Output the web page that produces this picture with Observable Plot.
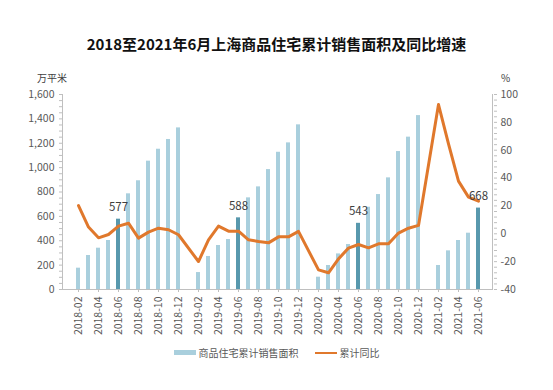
<!DOCTYPE html>
<html><head><meta charset="utf-8">
<script src="https://cdn.jsdelivr.net/npm/d3@7"></script>
<script src="https://cdn.jsdelivr.net/npm/@observablehq/plot@0.6"></script>
<style>
html,body{margin:0;padding:0;background:#fff;}
#wrap{position:relative;width:553px;height:390px;font-family:"Noto Sans CJK SC","Noto Sans",sans-serif;overflow:hidden;}
#title{position:absolute;left:0;top:34px;width:553px;text-align:center;font-size:15px;font-weight:bold;color:#111;line-height:20px;}
.unit{position:absolute;font-size:10px;color:#404040;line-height:14px;}
#legend{position:absolute;left:0;top:345px;width:553px;display:flex;justify-content:center;align-items:center;font-size:10px;color:#595959;}
.sw{display:inline-block;width:22px;margin-right:3px;}
#plot{position:absolute;left:0;top:0;}
</style></head>
<body>
<div id="wrap">
  <div id="plot"></div>
  <div id="title">2018至2021年6月上海商品住宅累计销售面积及同比增速</div>
  <div class="unit" style="left:37px;top:71px;">万平米</div>
  <div class="unit" style="left:501px;top:71px;">%</div>
  <div id="legend">
    <span class="sw" style="height:5px;background:#a9cfdd;"></span><span>商品住宅累计销售面积</span>
    <span class="sw" style="height:2px;background:#e0782c;margin-left:16px;"></span><span>累计同比</span>
  </div>
</div>
<script>
// Monthly categories 2018-02 .. 2021-06 (January slots are empty)
const months = [];
for (let y = 2018; y <= 2021; y++) for (let m = 1; m <= 12; m++) {
  const s = `${y}-${String(m).padStart(2, "0")}`;
  if (s >= "2018-02" && s <= "2021-06") months.push(s);
}
// Cumulative residential sales area (10k m²)
const areas = [175, 279, 339, 402, 577, 785, 892, 1053, 1151, 1231, 1326, null,
  139, 271, 361, 410, 588, 752, 842, 984, 1126, 1203, 1351, null,
  101, 197, 292, 369, 543, 675, 779, 916, 1132, 1250, 1427, null,
  197, 317, 402, 462, 668];
// Cumulative YoY growth (%)
const yoy = [20.3, 4.8, -2.9, -0.5, 5.5, 7.6, -3.1, 1.2, 4.0, 2.9, -0.7, null,
  -19.9, -4.3, 5.5, 1.9, 1.9, -4.3, -5.5, -6.5, -2.2, -2.2, 1.7, null,
  -25.9, -28, -18, -10.3, -7.7, -10.1, -7.2, -7.2, 0.5, 4.0, 6.0, null,
  92.8, 64.6, 37.8, 26.3, 23.4];
const xTickLabels = months.filter(d => +d.slice(5) % 2 === 0);
const leftTicks = d3.range(0, 1601, 200);
const rightTicks = d3.range(-40, 101, 20);

const L = [0, 1600], R = [-40, 100];
const toLeft = v => L[0] + (v - R[0]) / (R[1] - R[0]) * (L[1] - L[0]);
const fromLeft = v => R[0] + (v - L[0]) / (L[1] - L[0]) * (R[1] - R[0]);

const rows = months.map((m, i) => ({month: m, area: areas[i], yoy: yoy[i], june: m.endsWith("-06")}));
const barRows = rows.filter(d => d.area != null);
const lineRows = rows.filter(d => d.yoy != null);

const gray = "#595959", axisColor = "#bfbfbf";

function axisLines(index, scales, values, dims) {
  const g = d3.create("svg:g").attr("stroke", axisColor).attr("stroke-width", 1);
  const x0 = dims.marginLeft + 0.5, x1 = dims.width - dims.marginRight - 0.5;
  const y0 = dims.marginTop, y1 = dims.height - dims.marginBottom;
  g.append("line").attr("x1", x0).attr("x2", x0).attr("y1", y0).attr("y2", y1);
  g.append("line").attr("x1", x1).attr("x2", x1).attr("y1", y0).attr("y2", y1);
  return g.node();
}

const chart = Plot.plot({
  width: 553, height: 390,
  marginTop: 94, marginBottom: 101, marginLeft: 62, marginRight: 60,
  style: {fontFamily: '"Noto Sans CJK SC","Noto Sans",sans-serif', background: "transparent"},
  x: {type: "band", domain: months, paddingInner: 0.6, paddingOuter: 0.4, axis: null, label: null},
  y: {domain: L, axis: null, label: null},
  marks: [
    Plot.barY(barRows, {x: "month", y: "area", fill: d => d.june ? "#5898ad" : "#a9cfdd"}),
    Plot.ruleY([0], {stroke: axisColor}),
    axisLines,
    Plot.axisY(d3.range(0, 1601, 50), {anchor: "left", tickSize: 3, stroke: axisColor, tickFormat: () => "", label: null}),
    Plot.axisY(leftTicks, {anchor: "left", tickSize: 0, tickPadding: 8, tickFormat: d3.format(","), fontSize: 10.5, color: gray, label: null}),
    Plot.axisY(d3.range(-40, 101, 4).map(toLeft), {anchor: "right", tickSize: 3, stroke: axisColor, tickFormat: () => "", label: null}),
    Plot.axisY(rightTicks.map(toLeft), {anchor: "right", tickSize: 0, tickPadding: 7, tickFormat: d => String(Math.round(fromLeft(d))), fontSize: 10.5, color: gray, label: null}),
    Plot.axisX(xTickLabels, {anchor: "bottom", tickSize: 3, stroke: axisColor, tickRotate: -90, tickPadding: 4, fontSize: 10.5, color: gray, label: null}),
    Plot.line(lineRows, {x: "month", y: d => toLeft(d.yoy), stroke: "#e0782c", strokeWidth: 3, curve: "linear"}),
    Plot.text(barRows.filter(d => d.june), {x: "month", y: "area", text: d => String(d.area), dy: -12, fontSize: 11.5, fill: "#404040"})
  ]
});
document.getElementById("plot").appendChild(chart);
</script>
</body></html>
